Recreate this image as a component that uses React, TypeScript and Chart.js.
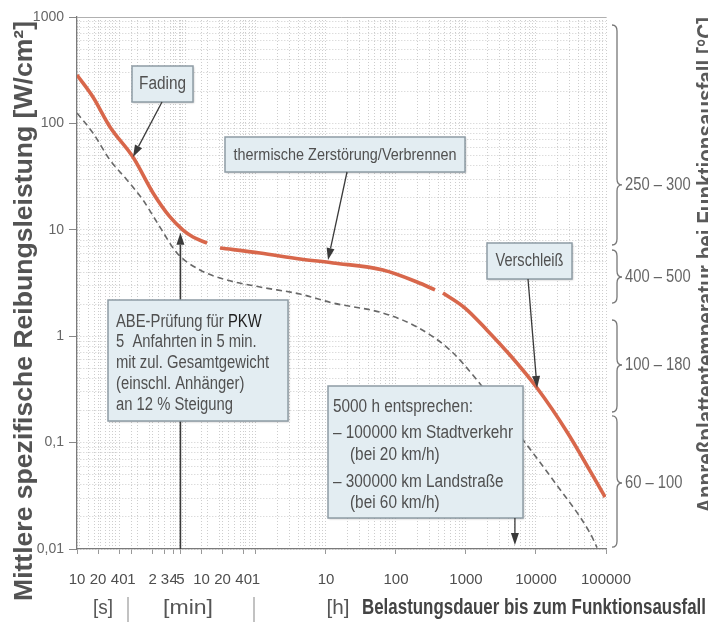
import { useEffect, useRef } from 'react';
import { Chart, registerables } from 'chart.js';

Chart.register(...registerables);

// ---------- axis ticks ----------
// time axis in seconds (10 s ... 100000 h)
const xTickSeconds = [10, 20, 40, 60, 120, 180, 240, 300, 600, 1200, 2400, 3600, 36000, 360000, 3600000, 36000000, 360000000];
const xTickLabels = ['10', '20', '40', '1', '2', '3', '4', '5', '10', '20', '40', '1', '10', '100', '1000', '10000', '100000'];
const yTickValues = [0.01, 0.1, 1, 10, 100, 1000];
const yTickLabels = ['0,01', '0,1', '1', '10', '100', '1000'];

// ---------- series ----------
// red curve (null = gap in the line)
const redTime = [10, 16.9, 29.6, 63, 122, 213, 327, 454, 720, 900, 1104, 4115, 15350, 45400, 235000, 720000, 1300000, 1500000, 1690000, 3490000, 7200000, 15300000, 37300000, 100000000, 349000000];
const redPower = [285, 177, 92.5, 48.3, 22.2, 13.2, 9.95, 8.55, 7.5, null, 6.74, 6.05, 5.32, 4.88, 4.19, 3.23, 2.72, null, 2.55, 1.84, 1.14, 0.665, 0.326, 0.126, 0.0308];

// dashed curve
const dashTime = [10, 16.9, 29.6, 51.8, 87.7, 153, 268, 571, 1390, 4115, 15350, 45400, 235000, 720000, 2130000, 5180000, 11000000, 23500000, 63100000, 213000000, 268000000];
const dashPower = [125, 81.3, 45.3, 29.4, 19.05, 10.6, 6.05, 4.19, 3.37, 2.9, 2.49, 2.05, 1.65, 1.22, 0.741, 0.387, 0.202, 0.106, 0.0445, 0.0141, 0.0103];

// temperature ranges (right side)
const tempLabels = ['250 – 300', '400 – 500', '100 – 180', '60 – 100'];
const tempTop = [841, 6.46, 1.42, 0.178];
const tempTip = [26.4, 3.6, 0.536, 0.0417];
const tempBottom = [7.2, 2.05, 0.194, 0.0104];

// arrow targets [time s, power]
const fadingTarget = [63, 48.3];
const thermTarget = [38500, 5.2];
const wearTarget = [37300000, 0.326];
const abeTarget = [300, 9.4];
const h5000Target = [18000000, 0.0109];

const unitLabels = ['[s]', '[min]', '[h]'];

function detectNarrow(): boolean {
  const c = document.createElement('canvas').getContext('2d');
  if (!c) return false;
  const s = 'Belastungsdauer 0123456789';
  c.font = '20px monospace';
  const a = c.measureText(s).width;
  c.font = '20px "Liberation Sans Narrow", monospace';
  const b = c.measureText(s).width;
  return Math.abs(a - b) > 0.5;
}

type TOpts = {
  size: number;
  bold?: boolean;
  color?: string;
  align?: CanvasTextAlign;
  base?: CanvasTextBaseline;
  width?: number;
  sx?: number;
  rot?: number;
};

function drawText(ctx: CanvasRenderingContext2D, fam: string, s: string, x: number, y: number, o: TOpts): number {
  ctx.save();
  ctx.font = `${o.bold ? 'bold ' : ''}${o.size}px ${fam}`;
  const w = ctx.measureText(s).width;
  const sx = o.width ? o.width / w : o.sx ?? 1;
  ctx.translate(x, y);
  if (o.rot) ctx.rotate(o.rot);
  ctx.scale(sx, 1);
  ctx.fillStyle = o.color ?? '#555';
  ctx.textAlign = o.align ?? 'left';
  ctx.textBaseline = o.base ?? 'alphabetic';
  ctx.fillText(s, 0, 0);
  ctx.restore();
  return w * sx;
}

function measure(ctx: CanvasRenderingContext2D, fam: string, s: string, size: number, bold = false): number {
  ctx.save();
  ctx.font = `${bold ? 'bold ' : ''}${size}px ${fam}`;
  const w = ctx.measureText(s).width;
  ctx.restore();
  return w;
}

function arrow(ctx: CanvasRenderingContext2D, x1: number, y1: number, x2: number, y2: number, lw = 1.3) {
  const ang = Math.atan2(y2 - y1, x2 - x1);
  const L = 12;
  const H = 4;
  const bx = x2 - Math.cos(ang) * L;
  const by = y2 - Math.sin(ang) * L;
  ctx.save();
  ctx.strokeStyle = '#3a3a3a';
  ctx.fillStyle = '#3a3a3a';
  ctx.lineWidth = lw;
  ctx.beginPath();
  ctx.moveTo(x1, y1);
  ctx.lineTo(bx, by);
  ctx.stroke();
  ctx.beginPath();
  ctx.moveTo(x2, y2);
  ctx.lineTo(bx + Math.sin(ang) * H, by - Math.cos(ang) * H);
  ctx.lineTo(bx - Math.sin(ang) * H, by + Math.cos(ang) * H);
  ctx.closePath();
  ctx.fill();
  ctx.restore();
}

function box(ctx: CanvasRenderingContext2D, x: number, y: number, w: number, h: number) {
  ctx.save();
  ctx.shadowColor = 'rgba(0,0,0,0.25)';
  ctx.shadowBlur = 2;
  ctx.shadowOffsetX = 1;
  ctx.shadowOffsetY = 1;
  ctx.fillStyle = '#e3edf2';
  ctx.fillRect(x, y, w, h);
  ctx.restore();
  ctx.save();
  ctx.strokeStyle = '#8e9ca5';
  ctx.lineWidth = 1.5;
  ctx.strokeRect(x, y, w, h);
  ctx.restore();
}

function brace(ctx: CanvasRenderingContext2D, x: number, yTop: number, yTip: number, yBot: number) {
  const s = x + 5;
  const r = 6;
  ctx.save();
  ctx.strokeStyle = '#777';
  ctx.lineWidth = 1.3;
  ctx.beginPath();
  ctx.moveTo(x, yTop);
  ctx.quadraticCurveTo(s, yTop, s, yTop + r);
  ctx.lineTo(s, yTip - r);
  ctx.quadraticCurveTo(s, yTip, s + 5, yTip);
  ctx.quadraticCurveTo(s, yTip, s, yTip + r);
  ctx.lineTo(s, yBot - r);
  ctx.quadraticCurveTo(s, yBot, x, yBot);
  ctx.stroke();
  ctx.restore();
}

function buildConfig(fam: string, narrow: boolean): any {
  // x ticks: labelled ticks + log minor grid in hours
  const xt: { value: number; lbl: string }[] = xTickSeconds.map((v, i) => ({ value: v, lbl: xTickLabels[i] }));
  for (let k = -3; k <= 4; k++) {
    for (let j = 1; j <= 9; j++) {
      const s = j * Math.pow(10, k) * 3600;
      if (s < 10 || s > 3.6e8) continue;
      if (xt.some((t) => Math.abs(Math.log10(t.value) - Math.log10(s)) < 0.004)) continue;
      xt.push({ value: s, lbl: '' });
    }
  }
  xt.sort((a, b) => a.value - b.value);

  const yt: { value: number; lbl: string }[] = [];
  for (let k = -2; k <= 2; k++) {
    for (let j = 1; j <= 9; j++) {
      const v = j * Math.pow(10, k);
      const idx = yTickValues.findIndex((q) => Math.abs(q - v) / q < 1e-6);
      yt.push({ value: v, lbl: idx >= 0 ? yTickLabels[idx] : '' });
    }
  }
  yt.push({ value: 1000, lbl: '1000' });

  const overlay = {
    id: 'overlay',
    beforeDatasetsDraw(chart: any) {
      const { ctx, chartArea: a } = chart;
      ctx.save();
      ctx.strokeStyle = '#b0b0b0';
      ctx.lineWidth = 1;
      ctx.beginPath();
      ctx.moveTo(a.left, a.top + 0.5);
      ctx.lineTo(a.right, a.top + 0.5);
      ctx.stroke();
      ctx.restore();
    },
    afterDraw(chart: any) {
      const ctx: CanvasRenderingContext2D = chart.ctx;
      const xs = chart.scales.x;
      const ys = chart.scales.y;
      const px = (t: number) => xs.getPixelForValue(t);
      const py = (v: number) => ys.getPixelForValue(v);
      const boxText = '#505050';

      // ABE arrow (from axis up to the curve)
      arrow(ctx, px(abeTarget[0]), ys.bottom, px(abeTarget[0]), py(abeTarget[1]), 1.6);

      // Fading
      box(ctx, 132, 66, 61, 36);
      drawText(ctx, fam, 'Fading', 162.5, 84, { size: 18, color: boxText, align: 'center', base: 'middle', width: 47 });
      arrow(ctx, 162, 102, px(fadingTarget[0]), py(fadingTarget[1]));

      // thermische Zerstörung
      box(ctx, 225, 137, 240, 35);
      drawText(ctx, fam, 'thermische Zerstörung/Verbrennen', 345, 155, { size: 17, color: boxText, align: 'center', base: 'middle', width: 223 });
      arrow(ctx, 347, 172, px(thermTarget[0]), py(thermTarget[1]));

      // Verschleiß
      box(ctx, 487, 243, 85, 36);
      drawText(ctx, fam, 'Verschleiß', 529.5, 261, { size: 18, color: boxText, align: 'center', base: 'middle', width: 68 });
      arrow(ctx, 528, 279, px(wearTarget[0]), py(wearTarget[1]));

      // ABE box
      box(ctx, 108, 300, 180, 121);
      const abeSx = 153 / measure(ctx, fam, 'mit zul. Gesamtgewicht', 18);
      const w1 = drawText(ctx, fam, 'ABE-Prüfung für ', 116, 322, { size: 18, color: boxText, base: 'middle', sx: abeSx });
      drawText(ctx, fam, 'PKW', 116 + w1, 322, { size: 18, color: '#1e1e1e', base: 'middle', sx: abeSx });
      drawText(ctx, fam, '5  Anfahrten in 5 min.', 116, 342, { size: 18, color: boxText, base: 'middle', sx: abeSx });
      drawText(ctx, fam, 'mit zul. Gesamtgewicht', 116, 363, { size: 18, color: boxText, base: 'middle', sx: abeSx });
      drawText(ctx, fam, '(einschl. Anhänger)', 116, 384, { size: 18, color: boxText, base: 'middle', sx: abeSx });
      drawText(ctx, fam, 'an 12 % Steigung', 116, 405, { size: 18, color: boxText, base: 'middle', sx: abeSx });

      // 5000 h box
      box(ctx, 328, 386, 195, 132);
      const hSx = 180 / measure(ctx, fam, '– 100000 km Stadtverkehr', 18);
      drawText(ctx, fam, '5000 h entsprechen:', 333, 407, { size: 18, color: boxText, base: 'middle', sx: hSx });
      drawText(ctx, fam, '– 100000 km Stadtverkehr', 333, 433, { size: 18, color: boxText, base: 'middle', sx: hSx });
      drawText(ctx, fam, '(bei 20 km/h)', 350, 455, { size: 18, color: boxText, base: 'middle', sx: hSx });
      drawText(ctx, fam, '– 300000 km Landstraße', 333, 482, { size: 18, color: boxText, base: 'middle', sx: hSx });
      drawText(ctx, fam, '(bei 60 km/h)', 350, 503, { size: 18, color: boxText, base: 'middle', sx: hSx });
      arrow(ctx, px(h5000Target[0]), 518, px(h5000Target[0]), py(h5000Target[1]));

      // braces + temperature ranges
      for (let i = 0; i < tempLabels.length; i++) {
        brace(ctx, 612, py(tempTop[i]), py(tempTip[i]), py(tempBottom[i]));
        drawText(ctx, fam, tempLabels[i], 625, py(tempTip[i]), { size: 18, color: '#666', base: 'middle', sx: narrow ? 1 : 0.82 });
      }

      // left title
      drawText(ctx, fam, 'Mittlere spezifische Reibungsleistung [W/cm²]', 32, 311, {
        size: 25, bold: true, color: '#535353', align: 'center', rot: -Math.PI / 2, width: 580,
      });
      // right title
      drawText(ctx, fam, 'Anpreßplattentemperatur bei Funktionsausfall [°C]', 714, 265, {
        size: 24, bold: true, color: '#5a5a5a', align: 'center', rot: -Math.PI / 2, width: 496,
      });
      // bottom units and title
      const unitX = [103, 188, 338];
      const unitW = [20, 50, 23];
      for (let i = 0; i < unitLabels.length; i++) {
        drawText(ctx, fam, unitLabels[i], unitX[i], 614, { size: 21, color: '#555', align: 'center', width: unitW[i] });
      }
      ctx.save();
      ctx.strokeStyle = '#999';
      ctx.lineWidth = 1.2;
      for (const sx of [128, 254]) {
        ctx.beginPath();
        ctx.moveTo(sx, 597);
        ctx.lineTo(sx, 622);
        ctx.stroke();
      }
      ctx.restore();
      drawText(ctx, fam, 'Belastungsdauer bis zum Funktionsausfall', 362, 614, { size: 22, bold: true, color: '#444', width: 344 });
    },
  };

  const gridColor = '#cdcdcd';

  return {
    type: 'line',
    data: {
      datasets: [
        {
          label: 'Reibungsleistung',
          data: redTime.map((t, i) => ({ x: t, y: redPower[i] })),
          borderColor: '#d8674b',
          borderWidth: 3.6,
          pointRadius: 0,
          fill: false,
          spanGaps: false,
          cubicInterpolationMode: 'monotone',
          borderCapStyle: 'butt',
        },
        {
          label: 'gestrichelt',
          data: dashTime.map((t, i) => ({ x: t, y: dashPower[i] })),
          borderColor: '#686868',
          borderWidth: 1.6,
          borderDash: [6, 4],
          pointRadius: 0,
          fill: false,
          cubicInterpolationMode: 'monotone',
        },
      ],
    },
    options: {
      responsive: false,
      maintainAspectRatio: false,
      devicePixelRatio: 1,
      animation: false,
      layout: { padding: { left: 0, top: 17, right: 102, bottom: 0 } },
      plugins: { legend: { display: false }, tooltip: { enabled: false }, title: { display: false } },
      scales: {
        x: {
          type: 'logarithmic',
          min: 10,
          max: 3.6e8,
          afterFit: (s: any) => {
            s.height = 78;
          },
          afterBuildTicks: (s: any) => {
            s.ticks = xt.map((t) => ({ value: t.value, lbl: t.lbl }));
          },
          ticks: {
            autoSkip: false,
            maxRotation: 0,
            minRotation: 0,
            padding: 17,
            color: '#4e4e4e',
            font: { family: fam, size: narrow ? 19 : 15 },
            callback: (_v: any, i: number, ticks: any[]) => (ticks[i] && ticks[i].lbl) || '',
          },
          grid: {
            color: gridColor,
            lineWidth: 1,
            tickLength: 5,
            tickColor: (c: any) => (c.tick && c.tick.lbl ? '#999' : 'rgba(0,0,0,0)'),
          },
          border: { display: true, color: '#7a7a7a', width: 1.3, dash: [1, 2] },
        },
        y: {
          type: 'logarithmic',
          min: 0.01,
          max: 1000,
          afterFit: (s: any) => {
            s.width = 77;
          },
          afterBuildTicks: (s: any) => {
            s.ticks = yt.map((t) => ({ value: t.value, lbl: t.lbl }));
          },
          ticks: {
            autoSkip: false,
            padding: 5,
            color: '#666',
            font: { family: fam, size: narrow ? 17 : 14 },
            callback: (_v: any, i: number, ticks: any[]) => (ticks[i] && ticks[i].lbl) || '',
          },
          grid: {
            color: gridColor,
            lineWidth: 1,
            tickLength: 8,
            tickColor: (c: any) => (c.tick && c.tick.lbl ? '#888' : 'rgba(0,0,0,0)'),
          },
          border: { display: true, color: '#7a7a7a', width: 1.3, dash: [1, 2] },
        },
      },
    },
    plugins: [overlay],
  };
}

export default function App() {
  const ref = useRef<HTMLCanvasElement>(null);
  useEffect(() => {
    const canvas = ref.current;
    if (!canvas) return;
    const narrow = detectNarrow();
    const fam = narrow ? '"Liberation Sans Narrow", "Liberation Sans", sans-serif' : '"Liberation Sans", Arial, sans-serif';
    const chart = new Chart(canvas, buildConfig(fam, narrow));
    return () => chart.destroy();
  }, []);
  return (
    <div style={{ position: 'fixed', left: 0, top: 0, width: 708, height: 627, background: '#fff', overflow: 'hidden' }}>
      <canvas ref={ref} width={708} height={627} style={{ display: 'block', width: 708, height: 627 }} />
    </div>
  );
}
